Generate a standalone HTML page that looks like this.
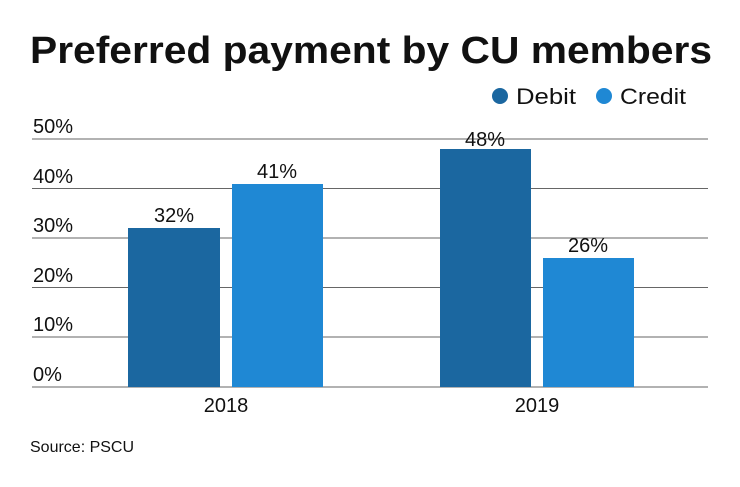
<!DOCTYPE html>
<html><head><style>
body{margin:0;background:#fff;width:740px;height:482px;overflow:hidden;font-family:"Liberation Sans",sans-serif;color:#111}
</style></head><body>
<svg width="740" height="482" xmlns="http://www.w3.org/2000/svg" font-family="Liberation Sans, sans-serif">
<text x="30" y="63" font-size="38" font-weight="bold" fill="#111" textLength="682" lengthAdjust="spacingAndGlyphs">Preferred payment by CU members</text>
<circle cx="500" cy="96" r="8" fill="#1b67a0"/>
<text x="516" y="104" font-size="22" fill="#111" textLength="60" lengthAdjust="spacingAndGlyphs">Debit</text>
<circle cx="604" cy="96" r="8" fill="#1f88d4"/>
<text x="620" y="104" font-size="22" fill="#111" textLength="66" lengthAdjust="spacingAndGlyphs">Credit</text>
<g stroke="#666" stroke-width="1">
<line x1="32" y1="139" x2="708" y2="139"/>
<line x1="32" y1="188.5" x2="708" y2="188.5"/>
<line x1="32" y1="238" x2="708" y2="238"/>
<line x1="32" y1="287.5" x2="708" y2="287.5"/>
<line x1="32" y1="337" x2="708" y2="337"/>
<line x1="32" y1="387" x2="708" y2="387"/>
</g>
<g font-size="20" fill="#111">
<text x="33" y="133">50%</text>
<text x="33" y="183">40%</text>
<text x="33" y="232">30%</text>
<text x="33" y="282">20%</text>
<text x="33" y="331">10%</text>
<text x="33" y="381">0%</text>
</g>
<rect x="128" y="228" width="92" height="159" fill="#1b67a0"/>
<rect x="232" y="184" width="91" height="203" fill="#1f88d4"/>
<rect x="440" y="149" width="91" height="238" fill="#1b67a0"/>
<rect x="543" y="258" width="91" height="129" fill="#1f88d4"/>
<g font-size="20" fill="#111" text-anchor="middle">
<text x="174" y="222">32%</text>
<text x="277" y="178">41%</text>
<text x="485" y="146">48%</text>
<text x="588" y="252">26%</text>
<text x="226" y="412">2018</text>
<text x="537" y="412">2019</text>
</g>
<text x="30" y="452" font-size="16" fill="#111">Source: PSCU</text>
</svg>
</body></html>
